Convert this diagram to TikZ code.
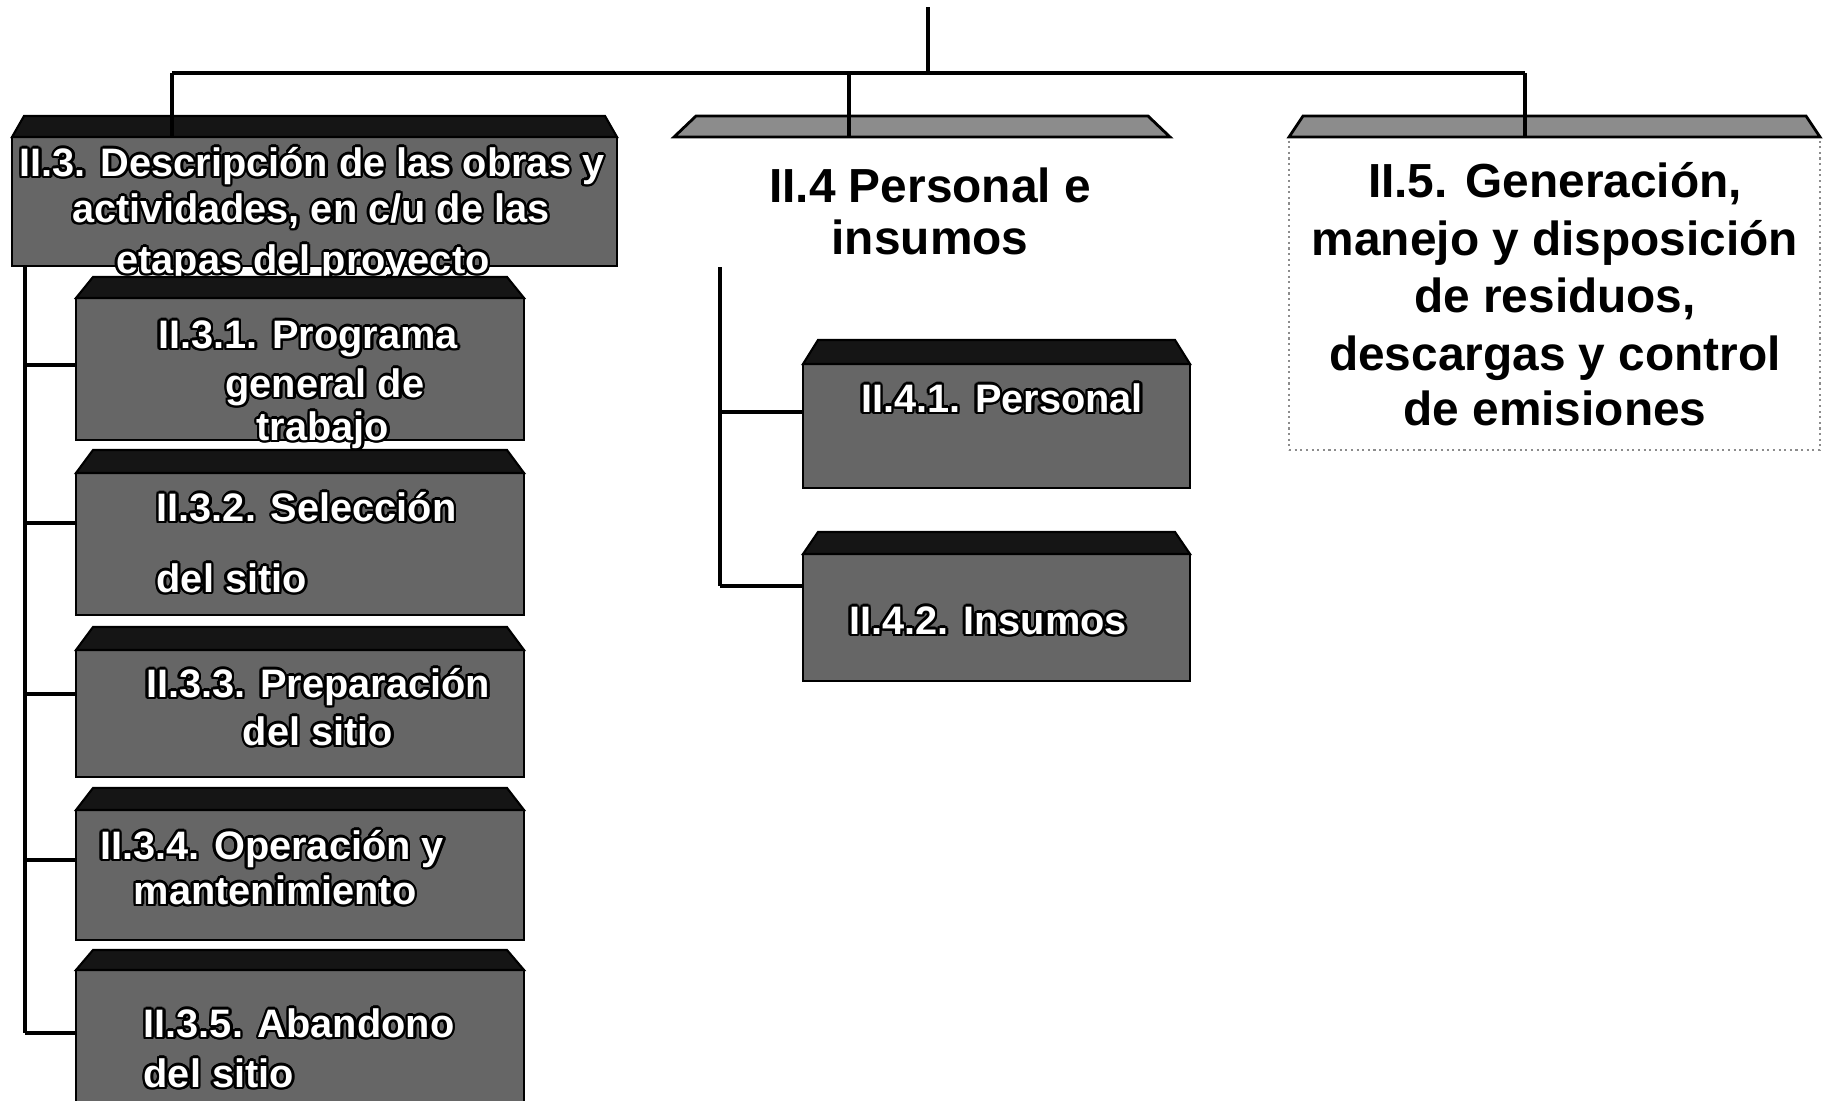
\documentclass[tikz,border=0pt]{standalone}
\usepackage{fontspec}
\setmainfont{Liberation Sans}
\usepackage[copies]{contour}
\contourlength{0.7pt}
\contournumber{16}
\definecolor{boxgray}{HTML}{666666}
\definecolor{topblack}{HTML}{151515}
\definecolor{bandgray}{HTML}{8C8C8C}
\newcommand\wl[1]{\contour{black}{#1}}
\tikzset{
  conn/.style={draw=black, line width=1.2pt},
  frontdark/.style={rectangle, fill=boxgray, draw=black, line width=0.6pt, inner sep=0pt, outer sep=0pt, anchor=north west},
  frontghost/.style={rectangle, draw=none, inner sep=0pt, outer sep=0pt, anchor=north west},
  frontdot/.style={rectangle, draw=black!45, densely dotted, line width=0.6pt, inner sep=0pt, outer sep=0pt, anchor=north west},
  topdark/.style={fill=topblack, draw=black, line width=0.6pt},
  topband/.style={fill=bandgray, draw=black, line width=0.8pt},
  wtxt/.style={text=white, font=\fontsize{11.3}{13}\selectfont\bfseries, inner sep=0pt, anchor=mid},
  wtxtl/.style={wtxt, anchor=mid west},
  btxt/.style={text=black, font=\fontsize{13.6}{16}\selectfont\bfseries, inner sep=0pt, anchor=mid},
}
% name, x1, y1, x2, y2, style
\newcommand\frontbox[6]{%
  \node[#6, minimum width={(#4-#2)*0.01cm}, minimum height={(#5-#3)*0.01cm}] (#1) at (#2,#3) {};}
% name, inset(cm), height(cm), style
\newcommand\topface[4]{%
  \path[#4] (#1.north west) -- ([shift={(#2,#3)}]#1.north west) -- ([shift={(-#2,#3)}]#1.north east) -- (#1.north east) -- cycle;}
\begin{document}
\begin{tikzpicture}[x=0.01cm, y=-0.01cm]
\useasboundingbox (0,0) rectangle (1825,1100);
\fill[white] (0,0) rectangle (1825,1100);

% ---- II.3 ----
\frontbox{b3}{12}{137}{617}{266}{frontdark}
\topface{b3}{0.12cm}{0.21cm}{topdark}
\node[wtxt] (t3a) at (312,167) {\wl{II.3. Descripción de las obras y}};
\node[wtxt] (t3b) at (311,213) {\wl{actividades, en c/u de las}};
\node[wtxt] (t3c) at (303,264) {\wl{etapas del proyecto}};

% ---- II.3.1 ----
\frontbox{b31}{76}{298}{524}{440}{frontdark}
\topface{b31}{0.17cm}{0.21cm}{topdark}
\node[wtxt] (t31a) at (308,339) {\wl{II.3.1. Programa}};
\node[wtxt] (t31b) at (325,388) {\wl{general de}};
\node[wtxt] (t31c) at (323,431) {\wl{trabajo}};

% ---- II.3.2 ----
\frontbox{b32}{76}{473}{524}{615}{frontdark}
\topface{b32}{0.17cm}{0.23cm}{topdark}
\node[wtxtl] (t32a) at (156,512) {\wl{II.3.2. Selección}};
\node[wtxtl] (t32b) at (156,583) {\wl{del sitio}};

% ---- II.3.3 ----
\frontbox{b33}{76}{650}{524}{777}{frontdark}
\topface{b33}{0.17cm}{0.23cm}{topdark}
\node[wtxt] (t33a) at (318,688) {\wl{II.3.3. Preparación}};
\node[wtxt] (t33b) at (318,736) {\wl{del sitio}};

% ---- II.3.4 ----
\frontbox{b34}{76}{810}{524}{940}{frontdark}
\topface{b34}{0.17cm}{0.22cm}{topdark}
\node[wtxt] (t34a) at (272,850) {\wl{II.3.4. Operación y}};
\node[wtxt] (t34b) at (275,895) {\wl{mantenimiento}};

% ---- II.3.5 ----
\frontbox{b35}{76}{970}{524}{1102}{frontdark}
\topface{b35}{0.17cm}{0.20cm}{topdark}
\node[wtxtl] (t35a) at (143,1028) {\wl{II.3.5. Abandono}};
\node[wtxtl] (t35b) at (143,1078) {\wl{del sitio}};

% ---- II.4 ----
\frontbox{b4}{674}{137}{1170}{267}{frontghost}
\topface{b4}{0.22cm}{0.21cm}{topband}
\node[btxt] (t4a) at (930,193) {II.4 Personal e};
\node[btxt] (t4b) at (930,245) {insumos};

\frontbox{b41}{803}{364}{1190}{488}{frontdark}
\topface{b41}{0.15cm}{0.24cm}{topdark}
\node[wtxt] (t41) at (1002,403) {\wl{II.4.1. Personal}};

\frontbox{b42}{803}{554}{1190}{681}{frontdark}
\topface{b42}{0.15cm}{0.22cm}{topdark}
\node[wtxt] (t42) at (988,625) {\wl{II.4.2. Insumos}};

% ---- II.5 ----
\frontbox{b5}{1289}{137}{1820}{450}{frontdot}
\topface{b5}{0.14cm}{0.21cm}{topband}
\node[btxt] (t5a) at (1555,188) {II.5. Generación,};
\node[btxt] (t5b) at (1555,246) {manejo y disposición};
\node[btxt] (t5c) at (1555,303) {de residuos,};
\node[btxt] (t5d) at (1555,361) {descargas y control};
\node[btxt] (t5e) at (1555,416) {de emisiones};

% ---- connectors ----
\coordinate (root) at (928,7);
\coordinate (jn) at (928,73);
\coordinate (hl) at (172,73);
\coordinate (hm) at (849,73);
\coordinate (hr) at (1525,73);
\draw[conn] (root) -- (jn);
\draw[conn] (hl) -- (hr);
\draw[conn] (hl) -- (hl |- b3.north);
\draw[conn] (hm) -- (hm |- b4.north);
\draw[conn] (hr) -- (hr |- b5.north);

\coordinate (s3) at (25,0);
\draw[conn] (s3 |- b3.south) -- (s3 |- 0,1033);
\draw[conn] (s3 |- 0,365) -- (b31.west |- 0,365);
\draw[conn] (s3 |- 0,523) -- (b32.west |- 0,523);
\draw[conn] (s3 |- 0,694) -- (b33.west |- 0,694);
\draw[conn] (s3 |- 0,860) -- (b34.west |- 0,860);
\draw[conn] (s3 |- 0,1033) -- (b35.west |- 0,1033);

\coordinate (s4) at (720,0);
\draw[conn] (s4 |- b4.south) -- (s4 |- 0,586);
\draw[conn] (s4 |- 0,412) -- (b41.west |- 0,412);
\draw[conn] (s4 |- 0,586) -- (b42.west |- 0,586);
\end{tikzpicture}
\end{document}
